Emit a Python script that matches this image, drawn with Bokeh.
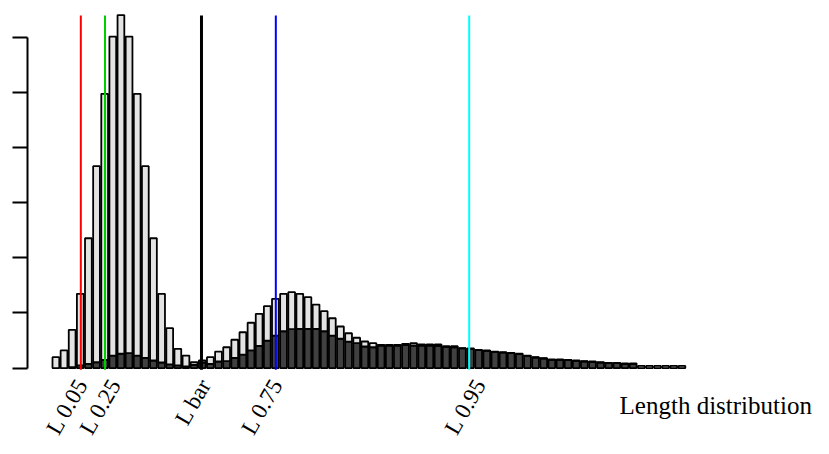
from bokeh.plotting import figure
from bokeh.models import FixedTicker, Range1d, ColumnDataSource
from bokeh.embed import file_html
from bokeh.resources import INLINE
from bokeh.core.properties import value

# ---- data (y in arbitrary count units) ----
total = [9.9, 16, 34.7, 67.3, 117.7, 183, 248.6, 300.5, 320, 300.5,
         248.6, 183, 117.7, 67.3, 36.2, 17.5, 11.4, 5.3, 6.9, 9.9,
         15, 18.9, 25.7, 32.5, 41.1, 49.2, 56.1, 62.8, 67.3, 68.8,
         67.3, 64.3, 57.6, 51.6, 45.2, 37.7, 31.6, 27.5, 24.1, 22.6,
         21.1, 21.1, 21.1, 22, 22.6, 21.4, 21.4, 21.4, 19.8, 19.8,
         18, 17.8, 16.6, 16, 15, 14.4, 13.9, 13, 11.4, 9.9,
         9, 7.8, 7.8, 7.5, 6.9, 6.3, 6, 5.3, 4.8, 4.8,
         4.2, 4.2, 2, 2, 2, 2, 2, 2]
dark = [0, 0, 0.8, 2.4, 3.9, 5.3, 7.5, 11.4, 13, 13.5,
        11.4, 9.3, 6.9, 5.1, 3.3, 2.4, 1.5, 3, 5, 3.9,
        6, 6.3, 9.3, 12.3, 16, 20.2, 25, 29.5, 33.4, 35.3,
        35.6, 35.6, 35.6, 33.4, 29.5, 26.6, 24, 22.6, 19.6, 18.9,
        20.5, 20.5, 20.5, 20.8, 20.5, 20.5, 20.5, 20.2, 19.3, 18.9,
        17.8, 17.5, 16.3, 15.7, 14.7, 14.1, 13.6, 12.7, 11.1, 9.6,
        8.7, 7.5, 7.5, 7.2, 6.6, 6, 5.7, 5, 4.5, 4.5,
        3.9, 3.9, 0, 0, 0, 0, 0, 0]

line_names = ["L 0.05", "L 0.25", "L bar", "L 0.75", "L 0.95"]
line_pos = [4.38, 7.95, 22.19, 33.16, 61.70]
label_pos = [4.58, 9.50, 22.78, 33.36, 63.37]
line_colors = ["#ff0000", "#00cd00", "#000000", "#0000ff", "#00ffff"]
line_widths = [2, 2, 3, 2, 2]
y_ticks = [0, 50, 100, 150, 200, 250, 300]
y_top = 319.6
x_title = "Length distribution"

# bar centres as in a barplot with width 1 and space 0.2
xs = [0.7 + 1.2 * i for i in range(len(total))]

p = figure(width=813, height=438, output_backend="svg", toolbar_location=None,
           x_range=Range1d(-3.49, 112.52), y_range=Range1d(-63.8, 333.2),
           x_axis_location=None, min_border_left=27, min_border_right=0,
           min_border_top=0, min_border_bottom=0)
p.outline_line_color = None
p.grid.visible = False
p.background_fill_color = "white"

ya = p.yaxis[0]
ya.ticker = FixedTicker(ticks=y_ticks)
ya.bounds = (0, 300)
ya.major_label_overrides = {t: "" for t in y_ticks}
ya.major_label_standoff = 0
ya.major_tick_out = 15
ya.major_tick_in = 0
ya.minor_tick_out = 0
ya.minor_tick_in = 0
ya.axis_line_width = 2
ya.major_tick_line_width = 2
ya.axis_line_color = "black"
ya.major_tick_line_color = "black"

src = ColumnDataSource(dict(x=xs, total=total, dark=dark))
p.vbar(x="x", width=1.0, bottom=0, top="dark", source=src,
       fill_color="#404040", line_color="black", line_width=1.8)
p.vbar(x="x", width=1.0, bottom="dark", top="total", source=src,
       fill_color="#e3e3e3", line_color="black", line_width=1.8)

lsrc = ColumnDataSource(dict(x=line_pos, y0=[-1.5] * 5, y1=[y_top] * 5,
                             c=line_colors, w=line_widths))
p.segment(x0="x", x1="x", y0="y0", y1="y1", line_color="c", line_width="w",
          source=lsrc)

tsrc = ColumnDataSource(dict(x=label_pos, y=[-11.24] * 5, t=line_names))
p.text(x="x", y="y", text="t", source=tsrc, angle=60, angle_units="deg",
       text_align="right", text_baseline="alphabetic",
       text_font=value("Liberation Serif"), text_font_size="23px",
       text_color="black")

p.text(x=[83.9], y=[-33.9], text=[x_title], text_align="left",
       text_baseline="alphabetic", text_font=value("Liberation Serif"),
       text_font_size="25px", text_color="black")

open("out.html", "w").write(file_html(p, INLINE))
